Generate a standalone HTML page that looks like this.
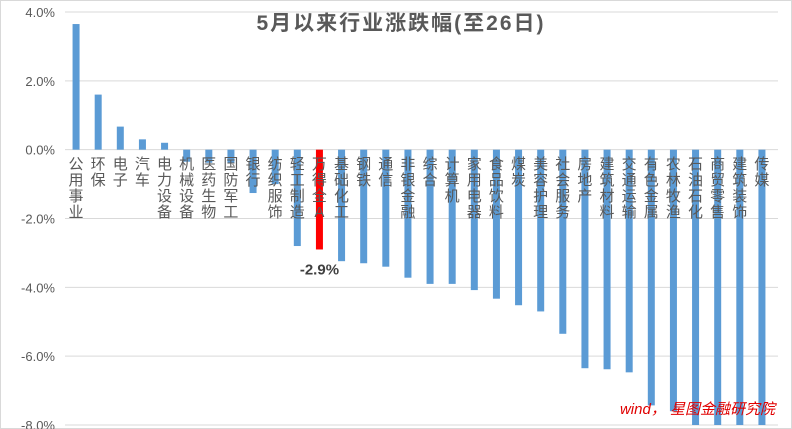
<!DOCTYPE html>
<html><head><meta charset="utf-8">
<style>
body{margin:0;background:#fff;}
svg{display:block;font-family:"Liberation Sans","Noto Sans CJK SC",sans-serif;}
</style></head>
<body>
<svg id="chart" width="792" height="429" viewBox="0 0 792 429">
<rect x="0.5" y="0.5" width="791" height="428" fill="#fff" stroke="#d9d9d9"/>
<text x="400" y="30" text-anchor="middle" font-size="21" font-weight="bold" fill="#595959" textLength="287">5月以来行业涨跌幅(至26日)</text>
<g id="grid"></g>
<g id="bars"></g>
<g id="labels"></g>
<text x="775" y="414" text-anchor="end" font-size="15" font-style="italic" fill="#e00000">wind， 星图金融研究院</text>
</svg>
<script>
const categories=["公用事业","环保","电子","汽车","电力设备","机械设备","医药生物","国防军工","银行","纺织服饰","轻工制造","万得全A","基础化工","钢铁","通信","非银金融","综合","计算机","家用电器","食品饮料","煤炭","美容护理","社会服务","房地产","建筑材料","交通运输","有色金属","农林牧渔","石油石化","商贸零售","建筑装饰","传媒"];
const values=[3.65,1.6,0.67,0.3,0.2,-0.35,-0.38,-0.4,-1.26,-1.0,-2.8,-2.9,-3.24,-3.3,-3.4,-3.72,-3.9,-3.9,-4.08,-4.33,-4.52,-4.7,-5.35,-6.35,-6.38,-6.47,-7.43,-7.6,-8.3,-8.3,-8.3,-8.3];
const highlight="万得全A";
const ticks=[4,2,0,-2,-4,-6,-8];
const tickLabels=["4.0%","2.0%","0.0%","-2.0%","-4.0%","-6.0%","-8.0%"];
const NS="http://www.w3.org/2000/svg";
const x0=65,x1=773,yTop=12,yBot=425,vMax=4,vMin=-8;
const y=v=>yTop+(vMax-v)/(vMax-vMin)*(yBot-yTop);
const bw=(x1-x0)/categories.length;
const xc=i=>x0+bw*(i+0.5);
const grid=document.getElementById('grid'),bars=document.getElementById('bars'),labels=document.getElementById('labels');
ticks.forEach((t,i)=>{
  const l=document.createElementNS(NS,'line');
  l.setAttribute('x1',x0);l.setAttribute('x2',x1+5);l.setAttribute('y1',y(t));l.setAttribute('y2',y(t));
  l.setAttribute('stroke','#d9d9d9');l.setAttribute('stroke-width','1');
  
  
  grid.appendChild(l);
  const tx=document.createElementNS(NS,'text');
  tx.setAttribute('x',55);tx.setAttribute('y',y(t)+5);tx.setAttribute('text-anchor','end');
  tx.setAttribute('font-size','13');tx.setAttribute('fill','#595959');
  tx.textContent=tickLabels[i];
  
  
  grid.appendChild(tx);
});
categories.forEach((c,i)=>{
  const v=values[i];
  const vc=Math.max(v,vMin);
  const r=document.createElementNS(NS,'rect');
  const top=Math.min(y(0),y(vc)),h=Math.abs(y(vc)-y(0));
  r.setAttribute('x',xc(i)-3.5);r.setAttribute('width',7);r.setAttribute('y',top);r.setAttribute('height',h);
  r.setAttribute('fill',c===highlight?'#ff0000':'#5b9bd5');
  
  
  bars.appendChild(r);
  const t=document.createElementNS(NS,'text');
  t.setAttribute('font-size','15');t.setAttribute('fill','#595959');t.setAttribute('text-anchor','middle');
  
  
  [...c].forEach((ch,k)=>{
    const s=document.createElementNS(NS,'tspan');
    s.setAttribute('x',xc(i));s.setAttribute('y',169+k*16);
    s.textContent=ch;t.appendChild(s);
  });
  labels.appendChild(t);
  if(c===highlight){
    const lv=document.createElementNS(NS,'text');
    lv.setAttribute('x',xc(i));lv.setAttribute('y',y(vc)+25);lv.setAttribute('text-anchor','middle');
    lv.setAttribute('font-size','15');lv.setAttribute('font-weight','bold');lv.setAttribute('fill','#404040');
    lv.textContent=v.toFixed(1)+'%';
    
    
    labels.appendChild(lv);
  }
});
</script>
</body></html>
